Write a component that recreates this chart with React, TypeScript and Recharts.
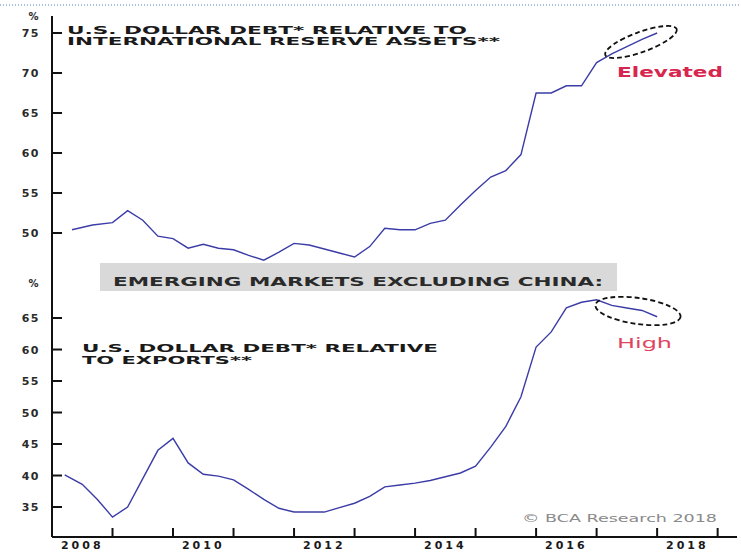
import { LineChart, Line, XAxis, YAxis } from 'recharts';

// x axis (years)
const X_MIN = 2008;
const X_MAX = 2019.32;
const yearTicks = [2008, 2009, 2010, 2011, 2012, 2013, 2014, 2015, 2016, 2017, 2018, 2019];
const labelYears = [2008, 2010, 2012, 2014, 2016, 2018];

// top panel: debt relative to international reserve assets (%)
const reserveYears = [
  2008.33, 2008.67, 2009.0, 2009.25, 2009.5, 2009.75, 2010.0, 2010.25, 2010.5, 2010.75,
  2011.0, 2011.25, 2011.5, 2011.75, 2012.0, 2012.25, 2012.5, 2012.75, 2013.0, 2013.25,
  2013.5, 2013.75, 2014.0, 2014.25, 2014.5, 2014.75, 2015.0, 2015.25, 2015.5, 2015.75,
  2016.0, 2016.25, 2016.5, 2016.75, 2017.0, 2017.25, 2017.5, 2017.75, 2018.0,
];
const reserveValues = [
  50.4, 51.0, 51.3, 52.8, 51.6, 49.6, 49.3, 48.1, 48.6, 48.1,
  47.9, 47.2, 46.6, 47.6, 48.7, 48.5, 48.0, 47.5, 47.0, 48.3,
  50.6, 50.4, 50.4, 51.2, 51.6, 53.5, 55.3, 57.0, 57.8, 59.8,
  67.5, 67.5, 68.4, 68.4, 71.3, 72.4, 73.3, 74.2, 75.0,
];

// bottom panel: debt relative to exports (%)
const exportYears = [
  2008.21, 2008.5, 2008.75, 2009.0, 2009.25, 2009.5, 2009.75, 2010.0, 2010.25, 2010.5,
  2010.75, 2011.0, 2011.25, 2011.5, 2011.75, 2012.0, 2012.25, 2012.5, 2012.75, 2013.0,
  2013.25, 2013.5, 2013.75, 2014.0, 2014.25, 2014.5, 2014.75, 2015.0, 2015.25, 2015.5,
  2015.75, 2016.0, 2016.25, 2016.5, 2016.75, 2017.0, 2017.25, 2017.5, 2017.75, 2018.0,
];
const exportValues = [
  40.1, 38.6, 36.2, 33.4, 35.0, 39.5, 44.0, 45.9, 42.0, 40.2,
  39.9, 39.3, 37.8, 36.2, 34.8, 34.2, 34.2, 34.2, 34.9, 35.6,
  36.7, 38.2, 38.5, 38.8, 39.2, 39.8, 40.4, 41.5, 44.5, 47.8,
  52.5, 60.4, 62.8, 66.6, 67.5, 67.9, 67.0, 66.6, 66.2, 65.2,
];

const topTicks = [50, 55, 60, 65, 70, 75];
const bottomTicks = [35, 40, 45, 50, 55, 60, 65];
const TOP_DOMAIN: [number, number] = [44.625, 77.125];
const BOTTOM_DOMAIN: [number, number] = [30.24, 71.67];
const TOP_PCT = 77.125;
const BOTTOM_PCT = 70.5;

const reserveData = reserveYears.map((year, i) => ({ year, value: reserveValues[i] }));
const exportData = exportYears.map((year, i) => ({ year, value: exportValues[i] }));

const W = 741;
const H = 552;
const PLOT_LEFT = 52;
const RIGHT_AXIS_W = 4;
const PLOT_W = W - PLOT_LEFT - RIGHT_AXIS_W;
const HALF_YEAR = PLOT_W / (X_MAX - X_MIN) / 2;

const LINE_COLOR = '#3b3ca6';
const AXIS_COLOR = '#111';
const FONT = '"DejaVu Sans", Arial, sans-serif';

function LeftTick(props: any) {
  const { x, y, payload, pct } = props;
  const isPct = payload.value === pct;
  return (
    <g>
      {!isPct && <line x1={x} x2={x + 10} y1={y} y2={y} stroke={AXIS_COLOR} strokeWidth={2} />}
      <text
        x={x - 12}
        y={y}
        dy={4}
        textAnchor="end"
        fontFamily={FONT}
        fontWeight="bold"
        fontSize={isPct ? 10 : 11}
        letterSpacing={1.5}
        fill="#2a2a2a"
      >
        {isPct ? '%' : payload.value}
      </text>
    </g>
  );
}

function YearTick(props: any) {
  const { x, y, payload } = props;
  const year = payload.value;
  return (
    <g>
      {year > X_MIN && <line x1={x} x2={x} y1={y} y2={y - 9} stroke={AXIS_COLOR} strokeWidth={2} />}
      {labelYears.includes(year) && (
        <text
          x={x + HALF_YEAR}
          y={y + 12}
          textAnchor="middle"
          fontFamily={FONT}
          fontWeight="bold"
          fontSize={11}
          letterSpacing={3}
          fill="#1a1a1a"
        >
          {year}
        </text>
      )}
    </g>
  );
}

const axisLine = { stroke: AXIS_COLOR, strokeWidth: 2 };

export default function App() {
  return (
    <div style={{ position: 'absolute', left: 0, top: 0, width: W, height: H, background: '#fff', overflow: 'hidden' }}>
      {/* top panel */}
      <div style={{ position: 'absolute', left: 0, top: 0 }}>
        <LineChart width={W} height={276} data={reserveData} margin={{ top: 16, right: 0, left: 0, bottom: 0 }}>
          <XAxis
            type="number"
            dataKey="year"
            domain={[X_MIN, X_MAX]}
            orientation="top"
            height={0}
            tick={false}
            tickLine={false}
            axisLine={axisLine}
            allowDataOverflow
          />
          <YAxis
            yAxisId="l"
            domain={TOP_DOMAIN}
            ticks={[...topTicks, TOP_PCT]}
            interval={0}
            width={PLOT_LEFT}
            tickSize={0}
            tickMargin={0}
            tickLine={false}
            axisLine={axisLine}
            tick={<LeftTick pct={TOP_PCT} />}
            allowDataOverflow
          />
          <YAxis
            yAxisId="r"
            orientation="right"
            domain={TOP_DOMAIN}
            ticks={topTicks}
            interval={0}
            width={RIGHT_AXIS_W}
            tickSize={4}
            tick={false}
            axisLine={false}
            tickLine={{ stroke: AXIS_COLOR, strokeWidth: 2 }}
            allowDataOverflow
          />
          <Line
            yAxisId="l"
            type="linear"
            dataKey="value"
            stroke={LINE_COLOR}
            strokeWidth={1.4}
            dot={false}
            isAnimationActive={false}
          />
        </LineChart>
      </div>

      {/* bottom panel */}
      <div style={{ position: 'absolute', left: 0, top: 0 }}>
        <LineChart width={W} height={H} data={exportData} margin={{ top: 276, right: 0, left: 0, bottom: 0 }}>
          <XAxis
            type="number"
            dataKey="year"
            domain={[X_MIN, X_MAX]}
            ticks={yearTicks}
            interval={0}
            height={15}
            tickSize={0}
            tickMargin={0}
            tickLine={false}
            axisLine={axisLine}
            tick={<YearTick />}
            allowDataOverflow
          />
          <YAxis
            yAxisId="l"
            domain={BOTTOM_DOMAIN}
            ticks={[...bottomTicks, BOTTOM_PCT]}
            interval={0}
            width={PLOT_LEFT}
            tickSize={0}
            tickMargin={0}
            tickLine={false}
            axisLine={axisLine}
            tick={<LeftTick pct={BOTTOM_PCT} />}
            allowDataOverflow
          />
          <YAxis
            yAxisId="r"
            orientation="right"
            domain={BOTTOM_DOMAIN}
            ticks={bottomTicks}
            interval={0}
            width={RIGHT_AXIS_W}
            tickSize={4}
            tick={false}
            axisLine={false}
            tickLine={{ stroke: AXIS_COLOR, strokeWidth: 2 }}
            allowDataOverflow
          />
          <Line
            yAxisId="l"
            type="linear"
            dataKey="value"
            stroke={LINE_COLOR}
            strokeWidth={1.4}
            dot={false}
            isAnimationActive={false}
          />
        </LineChart>
      </div>

      {/* titles and annotations */}
      <svg width={W} height={H} style={{ position: 'absolute', left: 0, top: 0, pointerEvents: 'none' }}>
        <line x1={0} x2={W} y1={5} y2={5} stroke="#4f7cc6" strokeWidth={1} strokeDasharray="1 2" />

        <g fontFamily={FONT} fontWeight="bold" fontSize={10} fill="#1a1a1a">
          <text x={67} y={34} textLength={400} lengthAdjust="spacingAndGlyphs">U.S. DOLLAR DEBT* RELATIVE TO</text>
          <text x={67} y={45} textLength={433} lengthAdjust="spacingAndGlyphs">INTERNATIONAL RESERVE ASSETS**</text>
          <text x={82} y={352} textLength={356} lengthAdjust="spacingAndGlyphs">U.S. DOLLAR DEBT* RELATIVE</text>
          <text x={82} y={364} textLength={170} lengthAdjust="spacingAndGlyphs">TO EXPORTS**</text>
        </g>

        <rect x={100} y={263} width={517} height={28} fill="#d9d9d9" />
        <text
          x={113}
          y={286}
          fontFamily={FONT}
          fontWeight="bold"
          fontSize={12}
          fill="#2a2a2a"
          textLength={490}
          lengthAdjust="spacingAndGlyphs"
        >
          EMERGING MARKETS EXCLUDING CHINA:
        </text>

        <ellipse
          cx={641}
          cy={42}
          rx={38}
          ry={10}
          transform="rotate(-20 641 42)"
          fill="none"
          stroke="#111"
          strokeWidth={1.8}
          strokeDasharray="5 3"
        />
        <text
          x={617}
          y={77}
          fontFamily={FONT}
          fontWeight="bold"
          fontSize={14}
          fill="#d7264f"
          textLength={106}
          lengthAdjust="spacingAndGlyphs"
        >
          Elevated
        </text>

        <ellipse
          cx={638}
          cy={311}
          rx={43}
          ry={13}
          transform="rotate(8 638 311)"
          fill="none"
          stroke="#111"
          strokeWidth={1.8}
          strokeDasharray="5 3"
        />
        <text
          x={617}
          y={348}
          fontFamily={FONT}
          fontSize={14}
          fill="#e0455f"
          textLength={55}
          lengthAdjust="spacingAndGlyphs"
        >
          High
        </text>

        <text
          x={522}
          y={522}
          fontFamily={FONT}
          fontSize={10}
          fill="#8a8a8a"
          textLength={195}
          lengthAdjust="spacingAndGlyphs"
        >
          © BCA Research 2018
        </text>
      </svg>
    </div>
  );
}
